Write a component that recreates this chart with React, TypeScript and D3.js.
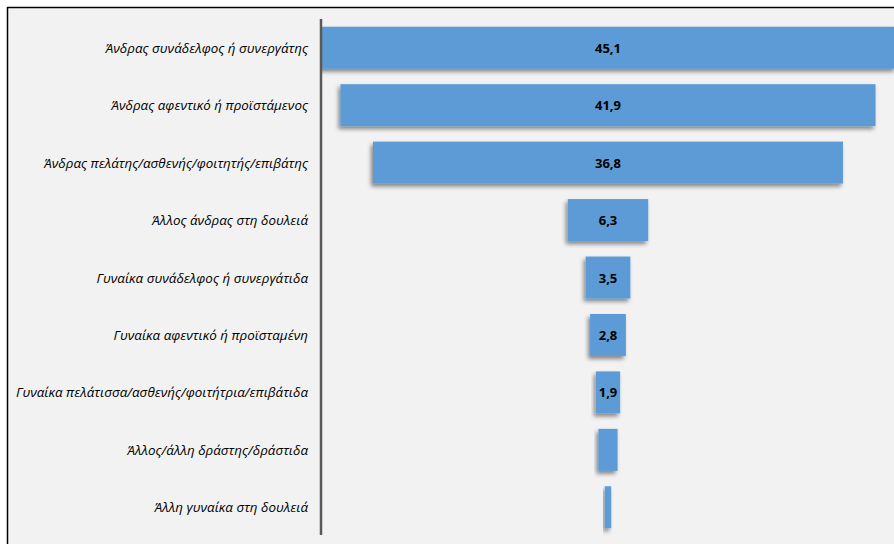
import React from "react";
import * as d3 from "d3";

const categories = [
  "Άνδρας συνάδελφος ή συνεργάτης",
  "Άνδρας αφεντικό ή προϊστάμενος",
  "Άνδρας πελάτης/ασθενής/φοιτητής/επιβάτης",
  "Άλλος άνδρας στη δουλειά",
  "Γυναίκα συνάδελφος ή συνεργάτιδα",
  "Γυναίκα αφεντικό ή προϊσταμένη",
  "Γυναίκα πελάτισσα/ασθενής/φοιτήτρια/επιβάτιδα",
  "Άλλος/άλλη δράστης/δράστιδα",
  "Άλλη γυναίκα στη δουλειά",
];
const values = [45.1, 41.9, 36.8, 6.3, 3.5, 2.8, 1.9, 1.5, 0.5];
const shownLabels = ["45,1", "41,9", "36,8", "6,3", "3,5", "2,8", "1,9", "", ""];

const W = 894;
const H = 544;
const axisX = 321;
const centerX = 608;
const unit = 12.77;

export default function App() {
  const x = d3
    .scaleLinear()
    .domain([-22.55, 22.55])
    .range([centerX - 22.55 * unit, centerX + 22.55 * unit]);
  const y = d3
    .scaleBand<string>()
    .domain(categories)
    .range([19, 536])
    .paddingInner(0.27)
    .paddingOuter(0.135);

  return (
    <svg
      width={W}
      height={H}
      style={{ position: "absolute", left: 0, top: 0, display: "block" }}
    >
      <defs>
        <filter id="sh" x="-20%" y="-30%" width="140%" height="170%">
          <feDropShadow dx={-2} dy={3} stdDeviation={2} floodColor="#000" floodOpacity={0.45} />
        </filter>
        <clipPath id="clip">
          <rect x={axisX} y={0} width={W - axisX} height={H} />
        </clipPath>
      </defs>
      <rect x={0} y={0} width={W} height={H} fill="#ffffff" />
      <rect x={7} y={7} width={W - 7} height={H - 7} fill="#f2f2f2" />
      <line x1={7} y1={7.5} x2={W} y2={7.5} stroke="#000" strokeWidth={1.5} />
      <line x1={7.5} y1={7} x2={7.5} y2={H} stroke="#000" strokeWidth={1.5} />
      <g clipPath="url(#clip)">
        {categories.map((c, i) => {
          const v = values[i];
          const x0 = x(-v / 2);
          const x1 = x(v / 2);
          return (
            <rect
              key={c}
              x={x0}
              y={y(c)}
              width={x1 - x0}
              height={y.bandwidth()}
              fill="#5b9bd5"
              filter="url(#sh)"
            />
          );
        })}
      </g>
      <line x1={axisX} y1={19} x2={axisX} y2={535} stroke="#595959" strokeWidth={2.5} />
      {categories.map((c, i) => (
        <text
          key={"l" + i}
          x={308}
          y={(y(c) as number) + y.bandwidth() / 2}
          textAnchor="end"
          dominantBaseline="central"
          fontFamily="'Open Sans', sans-serif"
          fontStyle="italic"
          fontWeight={500}
          fontSize={13.4}
          fill="#000"
        >
          {c}
        </text>
      ))}
      {categories.map((c, i) =>
        shownLabels[i] ? (
          <text
            key={"v" + i}
            x={centerX}
            y={(y(c) as number) + y.bandwidth() / 2}
            textAnchor="middle"
            dominantBaseline="central"
            fontFamily="'Open Sans', sans-serif"
            fontWeight="bold"
            fontSize={13}
            fill="#000"
          >
            {shownLabels[i]}
          </text>
        ) : null
      )}
    </svg>
  );
}
